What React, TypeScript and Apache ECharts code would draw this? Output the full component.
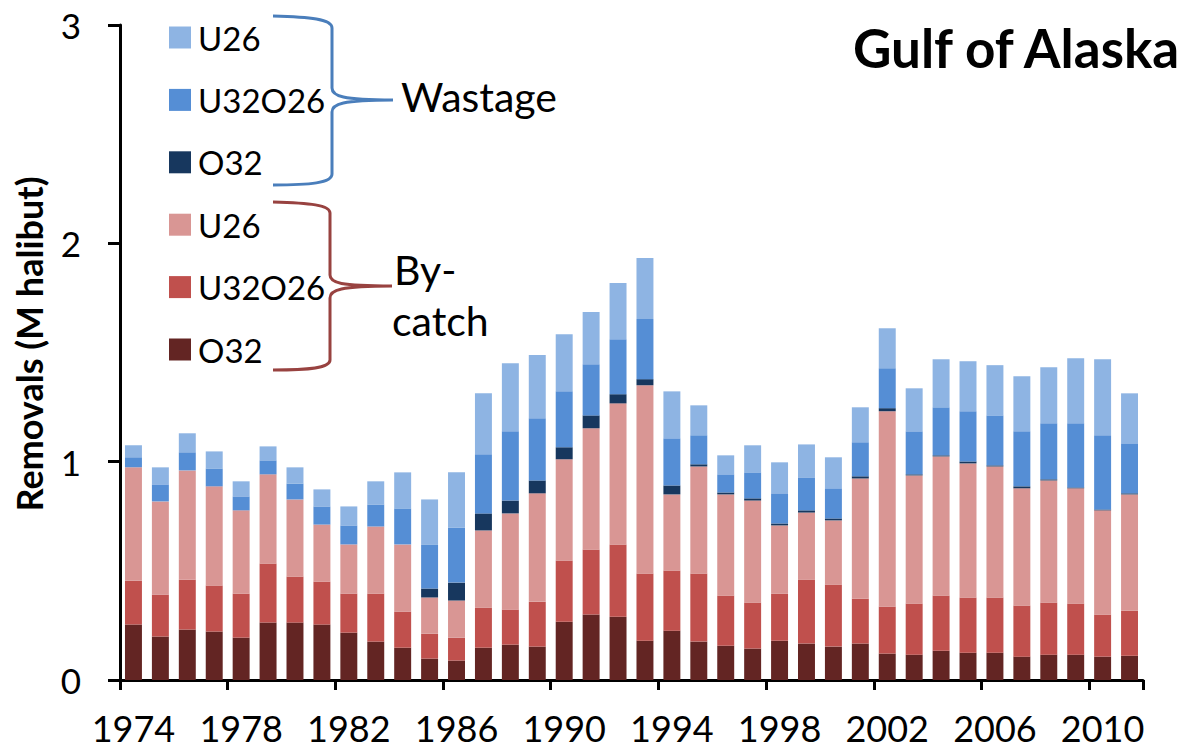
import React, { useEffect, useRef } from "react";
import * as echarts from "echarts";

const years = [
  "1974","1975","1976","1977","1978","1979","1980","1981","1982","1983",
  "1984","1985","1986","1987","1988","1989","1990","1991","1992","1993",
  "1994","1995","1996","1997","1998","1999","2000","2001","2002","2003",
  "2004","2005","2006","2007","2008","2009","2010","2011",
];

const bycatchO32 = [0.254,0.199,0.231,0.222,0.194,0.263,0.263,0.254,0.217,0.176,0.148,0.098,0.089,0.148,0.162,0.153,0.267,0.300,0.290,0.180,0.226,0.176,0.157,0.144,0.180,0.167,0.153,0.167,0.121,0.116,0.134,0.125,0.125,0.107,0.116,0.116,0.107,0.111];
const bycatchU32O26 = [0.201,0.192,0.229,0.211,0.202,0.271,0.211,0.197,0.179,0.220,0.165,0.114,0.105,0.184,0.161,0.206,0.280,0.298,0.331,0.308,0.275,0.312,0.230,0.211,0.216,0.293,0.284,0.206,0.215,0.234,0.253,0.253,0.253,0.234,0.239,0.234,0.193,0.207];
const bycatchU26 = [0.519,0.427,0.500,0.454,0.381,0.408,0.353,0.261,0.225,0.307,0.308,0.166,0.170,0.353,0.440,0.496,0.464,0.555,0.646,0.862,0.349,0.490,0.463,0.467,0.312,0.307,0.294,0.550,0.895,0.587,0.637,0.614,0.600,0.537,0.559,0.528,0.477,0.532];
const wastageO32 = [0,0,0,0,0,0,0,0,0,0,0,0.041,0.082,0.078,0.059,0.059,0.055,0.059,0.042,0.028,0.041,0.010,0.009,0.010,0.009,0.010,0.009,0.010,0.014,0.005,0.005,0.009,0.005,0.009,0.005,0.004,0.004,0.005];
const wastageU32O26 = [0.046,0.078,0.083,0.082,0.064,0.064,0.073,0.083,0.087,0.101,0.165,0.202,0.253,0.271,0.317,0.285,0.256,0.234,0.252,0.275,0.216,0.133,0.083,0.119,0.138,0.151,0.138,0.156,0.183,0.197,0.220,0.230,0.229,0.252,0.257,0.294,0.340,0.229];
const wastageU26 = [0.055,0.078,0.087,0.078,0.069,0.064,0.074,0.078,0.087,0.106,0.165,0.206,0.252,0.279,0.312,0.289,0.262,0.239,0.257,0.280,0.215,0.137,0.087,0.124,0.142,0.151,0.142,0.160,0.183,0.197,0.220,0.229,0.230,0.252,0.257,0.298,0.348,0.229];

const yTicks = [0, 1, 2, 3];

const FONT = "Lato";

export default function App() {
  const ref = useRef<HTMLDivElement>(null);
  useEffect(() => {
    if (!ref.current) return;
    echarts.graphic.registerShape(
      "braceBlue",
      echarts.graphic.extendPath(
        "M273,16 C310,17 332,19 332,28 L332,88 C332,96 342,100 393,100 C342,100 332,104 332,112 L332,174 C332,183 310,185 273,185",
        {}
      )
    );
    echarts.graphic.registerShape(
      "braceRed",
      echarts.graphic.extendPath(
        "M273,202 C310,203 330,205 330,213 L330,275 C330,283 340,286 392,286 C340,286 330,290 330,298 L330,360 C330,368 310,370 273,370",
        {}
      )
    );
    const chart = echarts.init(ref.current, null, { renderer: "svg" });
    const mk = (name: string, data: number[], color: string) => ({
      name,
      type: "bar",
      stack: "total",
      data,
      barCategoryGap: "37%",
      itemStyle: { color },
      emphasis: { disabled: true },
    });
    chart.setOption({
      animation: false,
      textStyle: { fontFamily: FONT },
      grid: { left: 120, right: 55, top: 25, bottom: 70, containLabel: false },
      title: {
        text: "Gulf of Alaska",
        right: 10,
        top: 16,
        textStyle: { fontFamily: FONT, fontWeight: "bold", fontSize: 53, color: "#000" },
      },
      legend: {
        orient: "vertical",
        left: 164,
        top: 16,
        itemWidth: 22,
        itemHeight: 22,
        itemGap: 29.4,
        icon: "rect",
        selectedMode: false,
        data: ["Wastage U26", "Wastage U32O26", "Wastage O32", "By-catch U26", "By-catch U32O26", "By-catch O32"],
        formatter: (n: string) => n.split(" ")[1],
        textStyle: { fontFamily: FONT, fontSize: 33, color: "#000", lineHeight: 33, padding: [0, 0, 0, 2] },
      },
      xAxis: {
        type: "category",
        data: years,
        axisLine: { lineStyle: { color: "#000", width: 3 } },
        axisTick: { show: true, interval: 3, length: 10, lineStyle: { color: "#000", width: 3 } },
        axisLabel: { interval: 3, fontSize: 36, lineHeight: 36, color: "#000", margin: 30, fontFamily: FONT },
      },
      yAxis: {
        type: "value",
        min: yTicks[0],
        max: yTicks[yTicks.length - 1],
        interval: 1,
        axisLine: { show: true, lineStyle: { color: "#000", width: 3 } },
        axisTick: { show: true, length: 12, lineStyle: { color: "#000", width: 3 } },
        axisLabel: { fontSize: 35, color: "#000", margin: 39, fontFamily: FONT },
        splitLine: { show: false },
      },
      series: [
        mk("By-catch O32", bycatchO32, "#632523"),
        mk("By-catch U32O26", bycatchU32O26, "#C0504D"),
        mk("By-catch U26", bycatchU26, "#D99694"),
        mk("Wastage O32", wastageO32, "#17375E"),
        mk("Wastage U32O26", wastageU32O26, "#558ED5"),
        mk("Wastage U26", wastageU26, "#8EB4E3"),
      ],
      graphic: [
        {
          type: "text",
          x: 29,
          y: 344,
          rotation: Math.PI / 2,
          style: {
            text: "Removals (M halibut)",
            fontFamily: FONT,
            fontWeight: "bold",
            fontSize: 36,
            fill: "#000",
            align: "center",
            verticalAlign: "middle",
          },
        },
        { type: "braceBlue", style: { stroke: "#4A7EBB", lineWidth: 3, fill: "none" } },
        { type: "braceRed", style: { stroke: "#984240", lineWidth: 3, fill: "none" } },
        {
          type: "text",
          x: 401,
          y: 96,
          style: { text: "Wastage", fontFamily: FONT, fontSize: 41, fill: "#000", verticalAlign: "middle" },
        },
        {
          type: "text",
          x: 394,
          y: 269,
          style: { text: "By-", fontFamily: FONT, fontSize: 41, fill: "#000", verticalAlign: "middle" },
        },
        {
          type: "text",
          x: 392,
          y: 320,
          style: { text: "catch", fontFamily: FONT, fontSize: 41, fill: "#000", verticalAlign: "middle" },
        },
      ],
    });
    return () => chart.dispose();
  }, []);
  return (
    <div
      ref={ref}
      style={{ position: "fixed", left: 0, top: 0, width: 1198, height: 750, background: "#fff" }}
    />
  );
}
